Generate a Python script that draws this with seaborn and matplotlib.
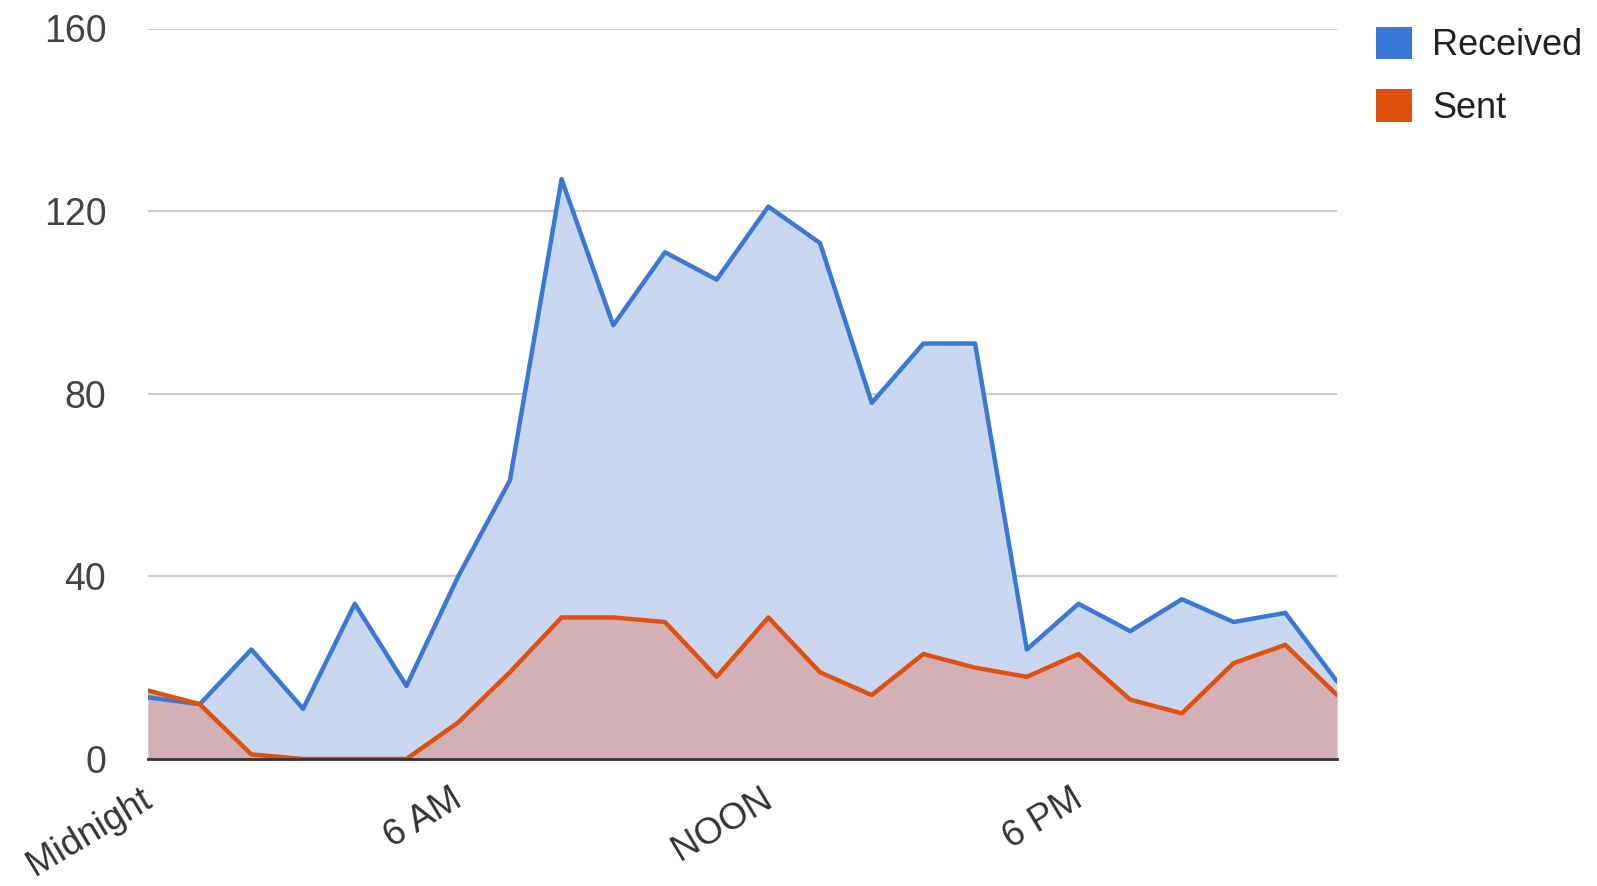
import numpy as np
import pandas as pd
import matplotlib
matplotlib.use("Agg")
import matplotlib.pyplot as plt
import matplotlib.transforms as mtransforms
import seaborn as sns
from matplotlib.patches import Patch

hours = list(range(24))
received = [13.5, 12, 24, 11, 34, 16, 40, 61, 127, 95, 111, 105, 121, 113, 78, 91, 91, 24, 34, 28, 35, 30, 32, 17]
sent = [15, 12, 1, 0, 0, 0, 8, 19, 31, 31, 30, 18, 31, 19, 14, 23, 20, 18, 23, 13, 10, 21, 25, 14]
tick_pos = [0, 6, 12, 18]
tick_labels = ["Midnight", "6 AM", "NOON", "6 PM"]
y_ticks = [0, 40, 80, 120, 160]
series_names = ["Received", "Sent"]

blue = "#3a78d6"
red = "#e0500e"
blue_fill = "#c9d7f1"
red_fill = "#d3b0b6"

sns.set_theme(style="white")
plt.rcParams['font.family'] = ['Liberation Sans', 'DejaVu Sans']

df = pd.DataFrame({"hour": hours * 2,
                   "value": received + sent,
                   "series": ["Received"] * 24 + ["Sent"] * 24})

W, H = 1597, 886
left, right, top, bottom = 148, 1337, 28.5, 759
fig = plt.figure(figsize=(W / 100, H / 100), dpi=100)
ax = fig.add_axes([left / W, (H - bottom) / H, (right - left) / W, (bottom - top) / H])

ax.fill_between(hours, received, 0, color=blue_fill, lw=0, zorder=1)
ax.fill_between(hours, sent, 0, color=red_fill, lw=0, zorder=2)
sns.lineplot(data=df, x="hour", y="value", hue="series", palette=[blue, red],
             linewidth=3.2, ax=ax, legend=False, zorder=3)

ax.set_xlim(0, 23)
ax.set_ylim(0, 160)
ax.set_yticks(y_ticks)
ax.set_yticklabels([str(v) for v in y_ticks], fontsize=27, color="#444444")
ax.set_xticks(tick_pos)
ax.set_xticklabels(tick_labels, fontsize=26.5, color="#333333", rotation=31,
                   ha="right", va="top", rotation_mode="anchor")
ax.tick_params(axis="both", length=0)
ax.tick_params(axis="y", pad=30)
ax.tick_params(axis="x", pad=16)
shift = mtransforms.ScaledTranslation(-8 / 100, 0, fig.dpi_scale_trans)
for lab in ax.get_xticklabels():
    lab.set_transform(lab.get_transform() + shift)
ax.set_xlabel("")
ax.set_ylabel("")
ax.grid(axis="y", color="#cccccc", linewidth=1.5)
ax.set_axisbelow(True)
for s in ["left", "right", "top"]:
    ax.spines[s].set_visible(False)
ax.spines["bottom"].set_color("#333333")
ax.spines["bottom"].set_linewidth(2)
ax.spines["bottom"].set_zorder(4)

handles = [Patch(facecolor=blue, edgecolor="none"), Patch(facecolor=red, edgecolor="none")]
fig.legend(handles, series_names, loc="upper left", bbox_to_anchor=(1343 / W, 1 - (-6) / H),
           frameon=False, fontsize=26, handlelength=1.02, handleheight=1.02,
           handletextpad=0.55, labelspacing=0.72, labelcolor="#222222",
           borderaxespad=0.5)

fig.savefig("out.png", dpi=100)
